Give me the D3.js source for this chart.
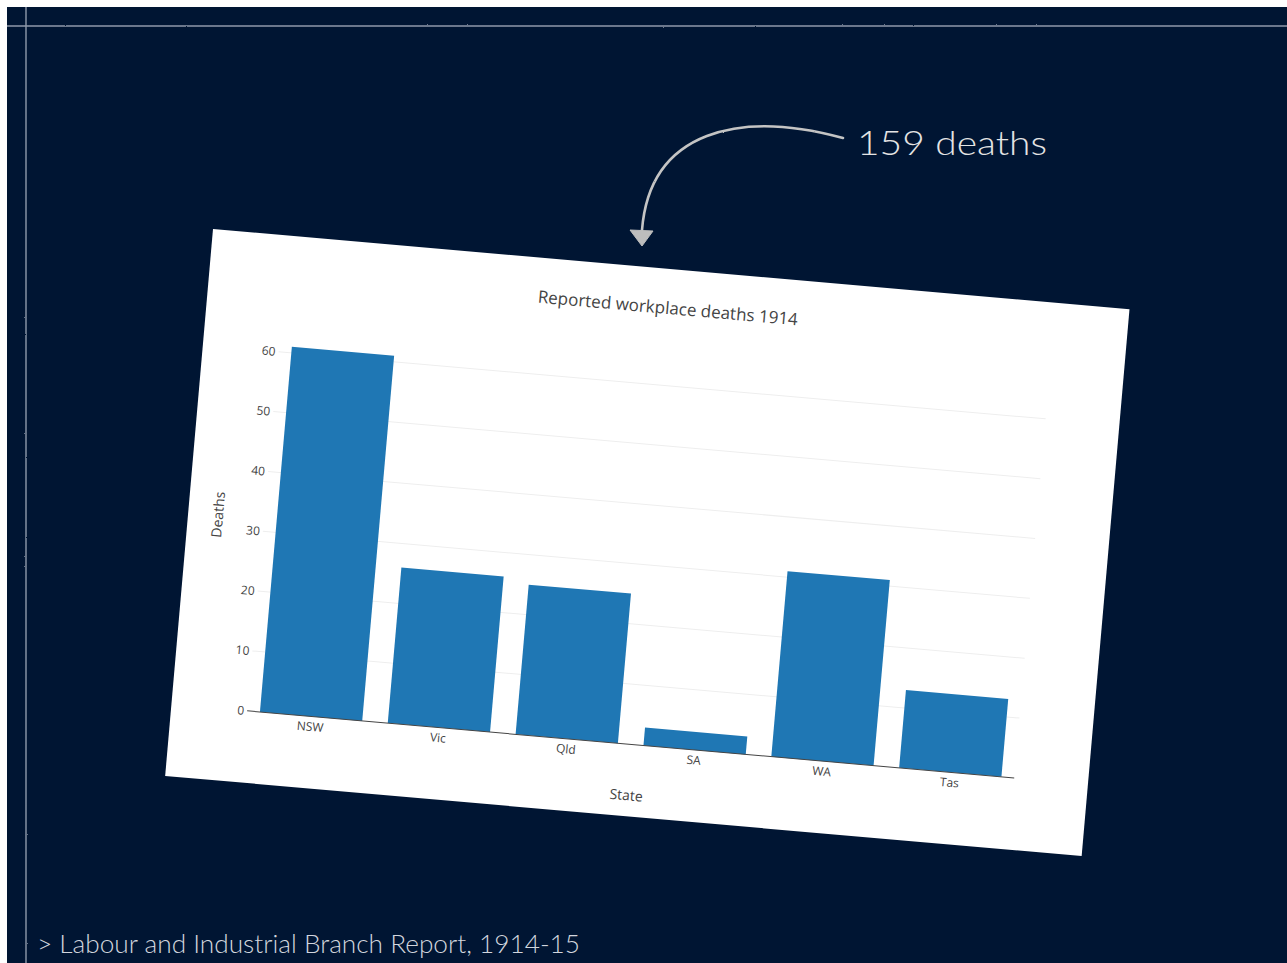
<!DOCTYPE html>
<html>
<head>
<meta charset="utf-8">
<script src="https://cdn.jsdelivr.net/npm/d3@7"></script>
<style>
    html, body { margin: 0; padding: 0; background: #ffffff; overflow: hidden; }
    #slide { width: 1287px; height: 963px; }
</style>
</head>
<body>
<div id="slide"></div>
<script>
// Data
const states = ["NSW", "Vic", "Qld", "SA", "WA", "Tas"];
const deaths = [61, 26, 25, 3, 31, 13];
const yTicks = [0, 10, 20, 30, 40, 50, 60];
const chartTitle = "Reported workplace deaths 1914";
const annotationText = "159 deaths";
const sourceText = "> Labour and Industrial Branch Report, 1914-15";

const data = states.map((s, i) => ({ state: s, deaths: deaths[i] }));

// Slide dimensions
const W = 1287, H = 963;

// Paper (the rotated plot card)
const paper = { x: 213, y: 229, width: 920, height: 549, angle: 5 };
const margin = { top: 91, right: 74, bottom: 72, left: 76 };

const svg = d3.select("#slide")
    .append("svg")
    .attr("width", W)
    .attr("height", H);

// Chalky look for the hand drawn bits
// (user space region so thin horizontal/vertical lines don't vanish)
const defs = svg.append("defs");
const chalk = defs.append("filter")
    .attr("id", "chalk")
    .attr("filterUnits", "userSpaceOnUse")
    .attr("x", 0).attr("y", 0)
    .attr("width", W).attr("height", H);
chalk.append("feTurbulence")
    .attr("type", "fractalNoise")
    .attr("baseFrequency", 0.9)
    .attr("numOctaves", 2)
    .attr("result", "noise");
chalk.append("feDisplacementMap")
    .attr("in", "SourceGraphic")
    .attr("in2", "noise")
    .attr("scale", 1.6);

// Dark board background
svg.append("rect")
    .attr("x", 7).attr("y", 7)
    .attr("width", W - 7).attr("height", H - 7)
    .attr("fill", "#001533");

// Chalk guide lines
svg.append("line")
    .attr("x1", 7).attr("x2", W)
    .attr("y1", 26).attr("y2", 26)
    .attr("stroke", "#8f99aa")
    .attr("stroke-width", 1.4)
    .attr("filter", "url(#chalk)");
svg.append("line")
    .attr("x1", 26).attr("x2", 26)
    .attr("y1", 7).attr("y2", H)
    .attr("stroke", "#8f99aa")
    .attr("stroke-width", 1.4)
    .attr("filter", "url(#chalk)");

// Card group, rotated
const card = svg.append("g")
    .attr("transform", `translate(${paper.x},${paper.y}) rotate(${paper.angle})`);

card.append("rect")
    .attr("width", paper.width)
    .attr("height", paper.height)
    .attr("fill", "#ffffff");

const plotW = paper.width - margin.left - margin.right;
const plotH = paper.height - margin.top - margin.bottom;

const x = d3.scaleBand()
    .domain(states)
    .range([margin.left, margin.left + plotW])
    .paddingInner(0.2)
    .paddingOuter(0.1);

const y = d3.scaleLinear()
    .domain([0, 64.25])
    .range([margin.top + plotH, margin.top]);

// Gridlines
card.append("g")
    .selectAll("line")
    .data(yTicks.filter(t => t > 0))
    .enter()
    .append("line")
    .attr("x1", margin.left)
    .attr("x2", margin.left + plotW)
    .attr("y1", d => y(d))
    .attr("y2", d => y(d))
    .attr("stroke", "#eeeeee")
    .attr("stroke-width", 1);

// Bars
card.selectAll(".bar")
    .data(data)
    .enter()
    .append("rect")
    .attr("class", "bar")
    .attr("fill", "#1f77b4")
    .attr("x", d => x(d.state))
    .attr("width", x.bandwidth())
    .attr("y", d => y(d.deaths))
    .attr("height", d => y(0) - y(d.deaths));

// Zero line
card.append("line")
    .attr("x1", margin.left)
    .attr("x2", margin.left + plotW)
    .attr("y1", y(0))
    .attr("y2", y(0))
    .attr("stroke", "#444444")
    .attr("stroke-width", 1);

// Y axis labels
const yAxis = card.append("g")
    .attr("transform", `translate(${margin.left - 3},0)`)
    .style("font-family", "'Open Sans'")
    .style("font-size", "12px")
    .call(d3.axisLeft(y).tickValues(yTicks).tickSize(0).tickPadding(0));
yAxis.select(".domain").remove();
yAxis.selectAll("text").attr("fill", "#444444");

// X axis labels
const xAxis = card.append("g")
    .attr("transform", `translate(0,${y(0)})`)
    .style("font-family", "'Open Sans'")
    .style("font-size", "12px")
    .call(d3.axisBottom(x).tickSize(0).tickPadding(6));
xAxis.select(".domain").remove();
xAxis.selectAll("text").attr("fill", "#444444");

// Titles
card.append("text")
    .attr("x", paper.width / 2)
    .attr("y", 45)
    .attr("text-anchor", "middle")
    .style("font-family", "'Open Sans'")
    .style("font-size", "17px")
    .attr("fill", "#444444")
    .text(chartTitle);

card.append("text")
    .attr("x", margin.left + plotW / 2)
    .attr("y", 533)
    .attr("text-anchor", "middle")
    .style("font-family", "'Open Sans'")
    .style("font-size", "14px")
    .attr("fill", "#444444")
    .text("State");

card.append("text")
    .attr("transform", `translate(35,${margin.top + plotH / 2}) rotate(-90)`)
    .attr("text-anchor", "middle")
    .style("font-family", "'Open Sans'")
    .style("font-size", "14px")
    .attr("fill", "#444444")
    .text("Deaths");

// Hand drawn arrow pointing at the card
svg.append("path")
    .attr("d", "M843,138 C740,110 650,130 642,230")
    .attr("fill", "none")
    .attr("stroke", "#c4c4c4")
    .attr("stroke-width", 2.6)
    .attr("stroke-linecap", "round")
    .attr("filter", "url(#chalk)");

svg.append("path")
    .attr("d", "M630,230 L653,231 L642,246 Z")
    .attr("fill", "#bdbdbd")
    .attr("stroke", "#bdbdbd")
    .attr("stroke-width", 1)
    .attr("filter", "url(#chalk)");

svg.append("text")
    .attr("x", 857)
    .attr("y", 155)
    .attr("textLength", 190)
    .attr("lengthAdjust", "spacingAndGlyphs")
    .style("font-family", "Lato")
    .style("font-weight", 300)
    .style("font-size", "34px")
    .attr("fill", "#e4e4e4")
    .text(annotationText);

// Source line
svg.append("text")
    .attr("x", 37)
    .attr("y", 953)
    .attr("textLength", 543)
    .attr("lengthAdjust", "spacingAndGlyphs")
    .style("font-family", "Lato")
    .style("font-weight", 300)
    .style("font-size", "25px")
    .attr("fill", "#d2d6de")
    .text(sourceText);
</script>
</body>
</html>
